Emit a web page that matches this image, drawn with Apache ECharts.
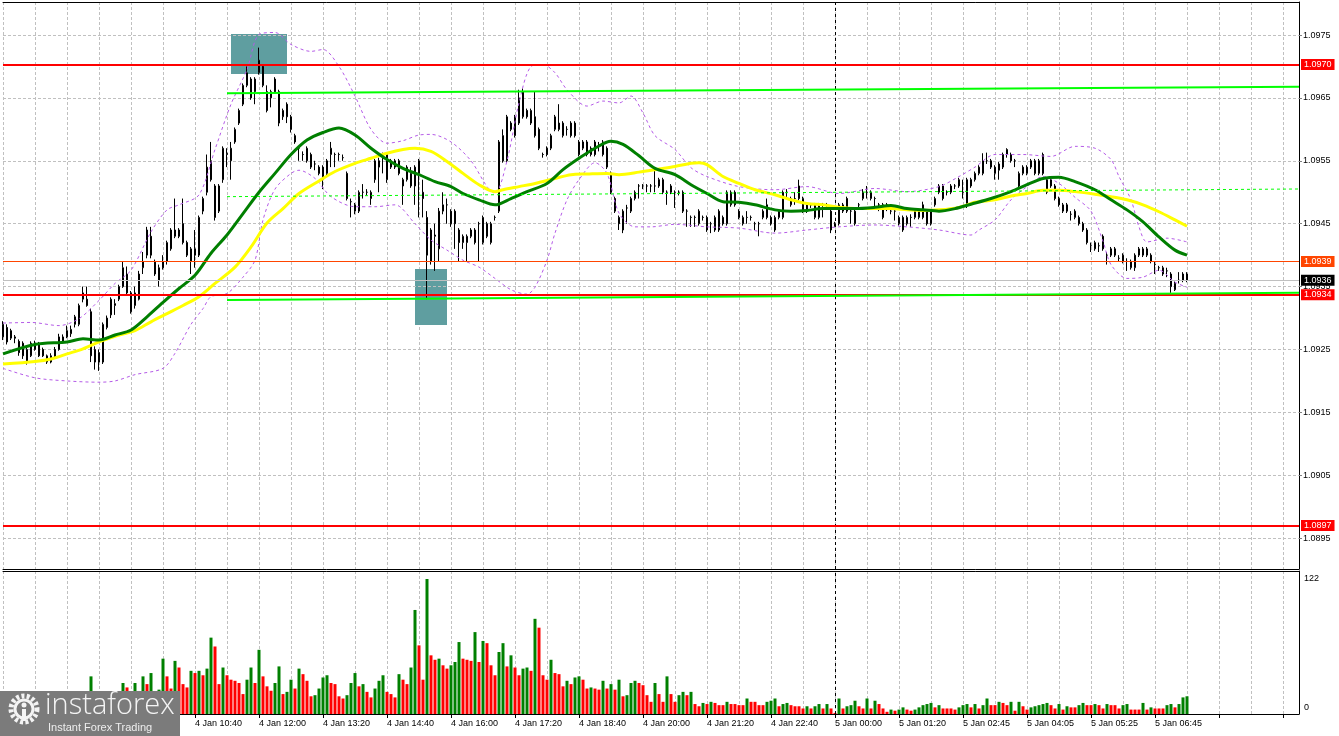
<!DOCTYPE html>
<html><head><meta charset="utf-8">
<script src="https://cdn.jsdelivr.net/npm/echarts@6/dist/echarts.min.js"></script>
<style>html,body{margin:0;padding:0;background:#fff;overflow:hidden}#c{width:1339px;height:736px}</style>
</head><body><div id="c"></div>
<script>
// ---------- DATA ----------
const opens = [
1.0927,1.09285,1.09268,1.0927,1.09263,1.0926,1.0923,1.0924,1.0925,1.0926,
1.0925,1.0923,1.0923,1.0925,1.0925,1.09262,1.0927,1.09275,1.0929,1.0929,
1.0933,1.0933,1.0931,1.0923,1.09245,1.0923,1.09285,1.09305,1.0932,1.0933,
1.0935,1.0937,1.0934,1.0932,1.0933,1.0938,1.094,1.0943,1.0939,1.0936,
1.0939,1.0939,1.0941,1.0943,1.0944,1.0945,1.0942,1.0939,1.0941,1.094,
1.0947,1.095,1.0955,1.0951,1.0947,1.0952,1.0956,1.0955,1.0958,1.0961,
1.0964,1.0967,1.0968,1.0966,1.0969,1.097,1.0966,1.0965,1.0968,1.0966,
1.0962,1.0964,1.0962,1.0959,1.0957,1.0956,1.0955,1.0956,1.09545,1.0954,
1.0954,1.0953,1.0956,1.0956,1.0956,1.09555,1.0953,1.09485,1.0947,1.0947,
1.095,1.095,1.0949,1.0952,1.0955,1.0956,1.0952,1.0955,1.0955,1.0955,
1.0952,1.0952,1.0951,1.0951,1.0955,1.095,1.0946,1.0939,1.0943,1.0941,
1.0947,1.0948,1.0947,1.0947,1.0944,1.0942,1.0942,1.0944,1.0944,1.0945,
1.0942,1.0945,1.0942,1.0946,1.0947,1.0959,1.0955,1.0961,1.0959,1.0961,
1.0962,1.0963,1.0961,1.0962,1.096,1.0956,1.0957,1.0957,1.096,1.0961,
1.0959,1.096,1.0961,1.0961,1.0958,1.0957,1.0958,1.0957,1.0958,1.09575,
1.0958,1.0957,1.0953,1.0949,1.0946,1.0944,1.09475,1.0947,1.0949,1.0951,
1.0951,1.0951,1.0951,1.0951,1.0952,1.0952,1.095,1.0951,1.095,1.095,
1.095,1.0947,1.0946,1.0946,1.0945,1.0946,1.0946,1.0945,1.0944,1.0944,
1.0946,1.0945,1.0948,1.095,1.0947,1.0945,1.0946,1.0946,1.0945,1.0945,
1.0946,1.0948,1.0946,1.0944,1.0946,1.0946,1.095,1.0948,1.0949,1.0951,
1.0947,1.0947,1.0948,1.0946,1.0946,1.0948,1.0948,1.0947,1.0945,1.0945,
1.0947,1.0949,1.0947,1.0945,1.0948,1.0949,1.095,1.0949,1.0949,1.0948,
1.0948,1.0948,1.0947,1.0947,1.0945,1.0946,1.0945,1.0946,1.0946,1.0946,
1.0948,1.0947,1.0945,1.0948,1.095,1.0951,1.095,1.095,1.0951,1.0951,
1.095,1.0948,1.0952,1.0952,1.0953,1.0953,1.0955,1.0955,1.0953,1.09535,
1.0954,1.0956,1.0956,1.0955,1.0951,1.0953,1.0953,1.0955,1.0955,1.0953,
1.0956,1.095,1.0952,1.0951,1.0949,1.0947,1.0948,1.09465,1.0946,1.0946,
1.0945,1.0944,1.09415,1.0941,1.09415,1.0943,1.094,1.0941,1.0941,1.09395,
1.0939,1.0939,1.0938,1.0938,1.094,1.094,1.094,1.094,1.09385,1.0938,
1.0937,1.09375,1.0937,1.09345,1.0936,1.0937,1.0937];
const highs = [
1.09295,1.0929,1.09283,1.09273,1.09266,1.09263,1.09253,1.09263,1.09264,1.09262,
1.09253,1.09242,1.09244,1.09254,1.09275,1.09274,1.09288,1.09288,1.09305,1.09323,
1.0935,1.0935,1.09315,1.09255,1.0925,1.09293,1.09304,1.09333,1.0933,1.09353,
1.0939,1.09382,1.09343,1.0935,1.09375,1.09405,1.09445,1.09445,1.09393,1.09385,
1.094,1.09423,1.09443,1.0949,1.09443,1.0949,1.09423,1.09413,1.0944,1.09463,
1.09493,1.0956,1.0958,1.09513,1.09513,1.09573,1.0957,1.0958,1.09603,1.09633,
1.09673,1.097,1.09683,1.09683,1.0973,1.09703,1.0967,1.09663,1.09683,1.09663,
1.09633,1.09643,1.09623,1.09593,1.09573,1.09565,1.09573,1.09563,1.0955,1.09543,
1.09543,1.09553,1.0958,1.09563,1.09563,1.0956,1.09533,1.0949,1.09483,1.09503,
1.09513,1.09505,1.09503,1.09553,1.09555,1.09563,1.09563,1.09553,1.09553,1.09553,
1.09523,1.09543,1.0954,1.09543,1.09553,1.0952,1.0947,1.09443,1.0945,1.09475,
1.095,1.0949,1.09473,1.09473,1.09443,1.09433,1.09433,1.09443,1.09443,1.09453,
1.09463,1.09453,1.09453,1.09463,1.09583,1.096,1.09623,1.09613,1.09623,1.09663,
1.09665,1.09633,1.09633,1.0966,1.09603,1.09563,1.09573,1.09593,1.09623,1.0964,
1.09613,1.09605,1.09613,1.09613,1.09583,1.09583,1.09583,1.09573,1.09583,1.0958,
1.09583,1.09573,1.09533,1.09493,1.09463,1.09473,1.0948,1.09493,1.09503,1.09513,
1.09513,1.09513,1.09513,1.0954,1.09523,1.09523,1.09503,1.09513,1.09503,1.09503,
1.09503,1.09473,1.09463,1.09463,1.09473,1.09463,1.09463,1.09453,1.09463,1.09473,
1.09463,1.09503,1.09503,1.09503,1.09473,1.09463,1.0947,1.09463,1.09453,1.09453,
1.09473,1.0949,1.09463,1.09463,1.09473,1.09503,1.09505,1.09493,1.095,1.0952,
1.09493,1.09483,1.09483,1.09483,1.09483,1.09483,1.09483,1.09473,1.09453,1.09483,
1.09483,1.09493,1.09473,1.09473,1.09483,1.09505,1.0951,1.09503,1.09493,1.09483,
1.09483,1.09483,1.09473,1.09473,1.09463,1.09463,1.09463,1.09465,1.09473,1.09473,
1.09485,1.09473,1.09473,1.09493,1.09513,1.09513,1.09503,1.09513,1.09513,1.09523,
1.0952,1.09523,1.09523,1.09533,1.09543,1.09562,1.09563,1.09553,1.09543,1.09548,
1.09563,1.0957,1.09563,1.09553,1.09533,1.09543,1.09543,1.09553,1.09553,1.09553,
1.09563,1.09523,1.09523,1.09513,1.09493,1.09483,1.09483,1.0947,1.09473,1.09463,
1.09453,1.09443,1.0942,1.09423,1.0942,1.09433,1.09405,1.09413,1.09413,1.094,
1.09403,1.09395,1.09393,1.09403,1.09413,1.09413,1.09413,1.09403,1.0939,1.09383,
1.09383,1.0938,1.09373,1.09358,1.09373,1.09373,1.09373];
const lows = [
1.09265,1.09258,1.09265,1.0926,1.0924,1.09235,1.09226,1.09238,1.09248,1.09238,
1.09238,1.09227,1.09228,1.09236,1.09248,1.0926,1.09268,1.0927,1.09285,1.09287,
1.09325,1.09318,1.0923,1.09218,1.09216,1.09227,1.09282,1.093,1.09305,1.09327,
1.09348,1.09336,1.09307,1.09315,1.09328,1.0937,1.09395,1.09395,1.09367,1.0935,
1.09377,1.09385,1.09407,1.09427,1.09427,1.09417,1.09397,1.0937,1.0938,1.09397,
1.09465,1.09495,1.09517,1.09455,1.09467,1.09515,1.0954,1.0952,1.09577,1.09607,
1.09637,1.09667,1.09647,1.0964,1.09687,1.09667,1.09627,1.09635,1.09657,1.09605,
1.09615,1.0961,1.09595,1.09577,1.0955,1.0955,1.09547,1.09537,1.09535,1.09527,
1.09505,1.09527,1.0954,1.0954,1.0955,1.0955,1.09487,1.0946,1.09465,1.09467,
1.0949,1.09495,1.0948,1.09515,1.095,1.0953,1.09515,1.09537,1.09537,1.09527,
1.0948,1.09517,1.09507,1.0948,1.0946,1.0946,1.0933,1.09385,1.09375,1.0939,
1.09465,1.0945,1.09445,1.0941,1.0939,1.0941,1.0939,1.09427,1.09417,1.0939,
1.09417,1.09427,1.09417,1.09455,1.09467,1.09547,1.09547,1.09597,1.09587,1.09607,
1.09617,1.09617,1.09607,1.09587,1.09567,1.09555,1.09557,1.09567,1.09597,1.09597,
1.09587,1.0959,1.09587,1.09587,1.09557,1.09567,1.09557,1.09557,1.09557,1.09565,
1.09557,1.09537,1.09497,1.09467,1.0944,1.09435,1.0945,1.09467,1.09487,1.0949,
1.09505,1.095,1.095,1.095,1.09507,1.09497,1.0948,1.09497,1.09475,1.09495,
1.09467,1.09445,1.09445,1.09445,1.09447,1.09455,1.09437,1.09435,1.09437,1.09437,
1.09447,1.09447,1.09477,1.09477,1.09457,1.09447,1.0945,1.09455,1.0944,1.0943,
1.09457,1.09457,1.09447,1.09437,1.09457,1.09457,1.0949,1.09477,1.0948,1.09487,
1.09467,1.09467,1.09475,1.09457,1.09457,1.0946,1.09475,1.09435,1.09445,1.09447,
1.09467,1.09467,1.0945,1.09447,1.09475,1.09487,1.0949,1.09487,1.09475,1.0947,
1.09457,1.0947,1.09465,1.09455,1.09447,1.09437,1.09447,1.09445,1.09457,1.09457,
1.09457,1.09447,1.09447,1.09477,1.09497,1.09487,1.09495,1.09497,1.09505,1.09507,
1.0949,1.09475,1.09507,1.09517,1.09527,1.09527,1.09545,1.09537,1.0952,1.0952,
1.09537,1.09555,1.09547,1.0954,1.09507,1.09527,1.09527,1.09537,1.09527,1.09527,
1.09527,1.09497,1.09507,1.09487,1.09477,1.09467,1.09467,1.09455,1.09457,1.09447,
1.09437,1.09417,1.09405,1.09407,1.09405,1.09407,1.09385,1.09397,1.09397,1.0939,
1.09387,1.09375,1.09377,1.09375,1.09397,1.09397,1.09397,1.09387,1.0937,1.09375,
1.09367,1.09365,1.0934,1.09343,1.09355,1.09357,1.09357];
const closes = [
1.0929,1.09262,1.0928,1.09268,1.09245,1.0924,1.0925,1.0926,1.0926,1.0924,
1.0924,1.0924,1.0924,1.09238,1.0927,1.0927,1.0928,1.09282,1.09302,1.0932,
1.0934,1.0932,1.0924,1.0925,1.0923,1.0929,1.093,1.0933,1.09323,1.0935,
1.0938,1.0934,1.0931,1.0934,1.0937,1.0939,1.0944,1.094,1.0937,1.0938,
1.0938,1.0942,1.0944,1.0944,1.0943,1.0942,1.094,1.0941,1.094,1.0946,
1.0949,1.0954,1.0952,1.0946,1.0951,1.0957,1.09562,1.0957,1.096,1.0963,
1.0967,1.0969,1.0965,1.0968,1.0971,1.0967,1.0963,1.0966,1.0966,1.0961,
1.0963,1.0962,1.096,1.0958,1.0957,1.0956,1.0957,1.0954,1.09545,1.0953,
1.0952,1.0955,1.0957,1.0956,1.0956,1.09555,1.0949,1.09485,1.0948,1.095,
1.095,1.095,1.095,1.0955,1.0954,1.0956,1.0956,1.0954,1.0954,1.0953,
1.0951,1.0954,1.0953,1.0954,1.0953,1.0949,1.094,1.0944,1.09432,1.0947,
1.0948,1.0948,1.0945,1.0945,1.0942,1.0943,1.0943,1.0943,1.0942,1.0945,
1.0946,1.0943,1.0945,1.0946,1.0958,1.0955,1.0962,1.096,1.0962,1.0965,
1.0966,1.0962,1.0963,1.0959,1.0957,1.0956,1.0956,1.0959,1.0962,1.096,
1.0961,1.096,1.0959,1.0959,1.0956,1.0958,1.0956,1.0956,1.0956,1.09575,
1.0956,1.0954,1.095,1.0947,1.0945,1.0947,1.09475,1.0949,1.095,1.0951,
1.0951,1.0951,1.0951,1.0951,1.0951,1.095,1.095,1.095,1.095,1.095,
1.0947,1.0947,1.0946,1.0946,1.0947,1.0946,1.0944,1.0945,1.0946,1.0947,
1.0945,1.095,1.095,1.0948,1.0946,1.0946,1.0946,1.0946,1.0945,1.0945,
1.0947,1.0946,1.0945,1.0946,1.0947,1.095,1.095,1.0949,1.0949,1.0949,
1.0949,1.0948,1.0948,1.0948,1.0948,1.0948,1.0948,1.0944,1.0945,1.0948,
1.0948,1.0947,1.0947,1.0947,1.0948,1.095,1.095,1.095,1.0949,1.0948,
1.0946,1.0948,1.0947,1.0947,1.0946,1.0944,1.0946,1.0946,1.0947,1.0947,
1.0946,1.0945,1.0947,1.0949,1.0951,1.0949,1.095,1.0951,1.0951,1.0952,
1.095,1.0952,1.0951,1.0953,1.0954,1.0955,1.0955,1.0954,1.0954,1.09545,
1.0956,1.09568,1.0955,1.0955,1.0953,1.0954,1.0954,1.0954,1.0953,1.0955,
1.0953,1.0952,1.0951,1.0949,1.0948,1.0948,1.0947,1.09465,1.0947,1.0945,
1.0944,1.0942,1.09415,1.0942,1.09415,1.0941,1.094,1.094,1.094,1.09395,
1.094,1.0939,1.0939,1.094,1.0941,1.0941,1.0941,1.0939,1.09385,1.0938,
1.0938,1.09375,1.0935,1.09355,1.0936,1.0936,1.0936];
const volumes = [
14,12,16,10,13,11,15,12,17,14, 11,18,13,16,12,15,19,14,17,13,
15,18,34,15,13,17,12,16,14,18, 28,24,18,28,20,34,27,37,19,22,
50,34,23,48,42,27,24,39,37,39, 35,41,69,61,27,42,35,31,30,28,
18,31,42,28,58,34,25,21,28,43, 18,20,31,23,41,36,30,16,17,23,
33,35,28,27,16,14,17,28,37,25, 27,20,15,23,30,35,20,18,15,36,
31,27,42,94,62,31,122,53,49,50, 44,41,44,47,65,50,49,48,74,47,
66,64,44,35,56,64,43,53,42,35, 41,42,39,86,78,35,31,49,37,36,
25,30,27,33,34,31,23,24,23,22, 30,23,27,22,31,16,17,28,30,28,
26,17,11,28,18,11,34,18,11,17, 20,17,20,9,7,10,9,11,10,8,
8,11,9,9,8,8,14,11,11,8, 8,11,12,14,7,9,10,8,7,7,
5,7,5,7,9,5,9,5,1,14, 5,7,8,12,7,5,14,5,12,9,
5,2,4,3,4,6,4,3,4,6, 8,9,10,6,8,5,5,5,4,6,
8,9,6,9,5,8,14,8,8,11, 10,8,11,3,11,7,4,6,7,8,
9,10,8,5,9,4,7,6,6,8, 10,8,8,9,8,5,9,8,8,5,
8,9,4,4,4,10,4,6,5,5, 5,8,9,6,9,15,16];
// moving averages / bands read at sample bars: [barIndex, price]
const maFast = [[0,1.09243],[8,1.09258],[16,1.09262],[20,1.09267],[24,1.09265],[28,1.09273],[32,1.09281],[36,1.09302],[40,1.09325],[44,1.09347],[48,1.09368],[52,1.09403],[56,1.09432],[60,1.09466],[64,1.095],[68,1.0953],[72,1.0956],[76,1.09583],[80,1.09595],[84,1.09602],[88,1.09591],[92,1.0957],[96,1.09552],[100,1.09538],[104,1.09528],[108,1.09517],[112,1.09509],[115,1.09498],[119,1.09488],[123,1.0948],[127,1.0949],[131,1.09501],[136,1.09514],[140,1.09536],[144,1.09554],[148,1.0957],[152,1.09581],[155,1.09576],[159,1.09558],[163,1.09538],[168,1.09528],[172,1.09512],[176,1.09498],[180,1.09485],[184,1.09484],[188,1.0948],[193,1.09472],[197,1.0947],[201,1.09471],[205,1.09474],[213,1.09474],[218,1.09476],[222,1.09479],[226,1.09474],[230,1.09472],[234,1.0947],[238,1.09474],[242,1.09481],[247,1.0949],[252,1.09501],[256,1.09512],[260,1.09522],[264,1.09524],[268,1.09517],[273,1.09504],[277,1.09488],[281,1.09472],[285,1.09453],[289,1.09429],[293,1.09408],[296,1.094]];
const maSlow = [[0,1.09227],[8,1.09231],[12,1.09235],[16,1.09243],[20,1.09251],[24,1.09262],[28,1.09271],[33,1.0928],[37,1.09294],[41,1.09307],[45,1.0932],[49,1.09334],[53,1.09355],[58,1.09381],[62,1.09413],[66,1.09451],[70,1.09474],[74,1.09498],[79,1.09518],[83,1.09533],[88,1.09546],[92,1.09554],[96,1.09562],[100,1.09568],[103,1.0957],[107,1.09565],[111,1.09549],[115,1.0953],[119,1.09512],[123,1.09501],[125,1.09504],[129,1.09509],[133,1.09514],[138,1.09522],[142,1.09528],[146,1.09529],[151,1.0953],[154,1.09528],[159,1.09532],[164,1.09537],[168,1.09541],[172,1.09546],[174,1.09547],[176,1.09544],[180,1.09525],[184,1.09514],[188,1.09504],[193,1.09496],[197,1.09488],[201,1.09482],[205,1.0948],[209,1.09476],[214,1.09474],[222,1.09474],[226,1.09472],[230,1.09471],[234,1.09472],[239,1.09476],[243,1.09484],[248,1.09488],[252,1.09494],[256,1.09498],[260,1.09503],[264,1.09503],[268,1.09501],[273,1.09497],[277,1.09493],[281,1.09488],[285,1.0948],[289,1.09469],[293,1.09456],[296,1.09446]];
const bandUpper = [[0,1.09292],[7,1.09293],[14,1.09288],[19,1.09299],[24,1.09328],[28,1.09355],[32,1.09376],[37,1.09437],[41,1.09472],[44,1.0948],[49,1.09496],[53,1.09568],[57,1.0964],[61,1.09695],[64,1.09751],[68,1.09754],[72,1.09735],[77,1.09724],[80,1.09727],[84,1.097],[88,1.09653],[92,1.096],[96,1.09578],[100,1.09582],[104,1.09591],[107,1.09592],[112,1.0958],[117,1.0955],[121,1.09509],[123,1.09498],[126,1.0955],[129,1.09642],[132,1.097],[135,1.09703],[138,1.0969],[141,1.09663],[146,1.09637],[150,1.09645],[154,1.09642],[157,1.09653],[160,1.09626],[163,1.0959],[168,1.09568],[172,1.09539],[176,1.09525],[184,1.09509],[193,1.09504],[201,1.09509],[209,1.09498],[218,1.09506],[226,1.09501],[234,1.09509],[239,1.09525],[243,1.0954],[248,1.0956],[255,1.0956],[262,1.09557],[268,1.09573],[273,1.0957],[277,1.09552],[279,1.09525],[282,1.09488],[284,1.09445],[286,1.09421],[291,1.09427],[296,1.09421]];
const bandLower = [[0,1.0922],[8,1.09205],[16,1.092],[24,1.09198],[28,1.092],[33,1.0921],[40,1.0922],[43,1.09244],[47,1.0929],[50,1.09315],[52,1.09334],[56,1.09339],[60,1.09365],[63,1.09392],[65,1.09456],[68,1.09505],[72,1.0953],[74,1.09535],[78,1.09522],[82,1.09493],[88,1.09477],[93,1.09477],[98,1.0948],[103,1.0945],[107,1.09424],[111,1.09408],[115,1.09392],[119,1.09381],[123,1.09363],[127,1.09345],[131,1.09338],[133,1.09349],[136,1.09392],[138,1.09435],[141,1.09488],[144,1.0952],[148,1.09547],[151,1.0953],[154,1.09467],[158,1.09445],[162,1.09445],[168,1.09449],[176,1.09445],[184,1.09443],[193,1.09435],[201,1.0944],[209,1.09445],[218,1.09448],[226,1.09445],[234,1.0944],[242,1.09432],[244,1.0944],[248,1.09456],[252,1.09488],[256,1.09509],[260,1.09525],[264,1.09514],[268,1.09492],[272,1.0947],[275,1.09422],[277,1.09385],[281,1.09363],[285,1.09365],[289,1.09376],[293,1.09357],[296,1.09349]];
// trend channel lines: [barIndex, price] end points
const trendUpper = [[56,1.096573],[324,1.096679]];
const trendMiddle = [[56,1.09493],[324,1.095052]];
const trendLower = [[56,1.093287],[324,1.093404]];
// horizontal levels
const resistanceLevels = [1.09703, 1.09337, 1.0897];
const pivotLevel = 1.0939;
const bidPrice = 1.0936;
// signal boxes: [fromBar, toBar, topPrice, bottomPrice]
const signalBoxes = [[57,71,1.097516,1.09688],[103,111,1.09378,1.092889]];
const priceTicks = [1.0895,1.0905,1.0915,1.0925,1.0935,1.0945,1.0955,1.0965,1.0975];
const volumeTicks = [0,122];
const xTickLabels = ['4 Jan 10:40','4 Jan 12:00','4 Jan 13:20','4 Jan 14:40','4 Jan 16:00','4 Jan 17:20','4 Jan 18:40','4 Jan 20:00','4 Jan 21:20','4 Jan 22:40','5 Jan 00:00','5 Jan 01:20','5 Jan 02:45','5 Jan 04:05','5 Jan 05:25','5 Jan 06:45'];
const firstLabelBar = 48, labelEvery = 16, gridEvery = 8;
const daySeparatorBar = 208;
const barSlots = 325;

// ---------- CHART ----------
const FONT = '"Liberation Sans", Arial, sans-serif';
const cats = Array.from({length: barSlots}, (_, i) => String(i));
const isGridBar = i => i % gridEvery === 0;
const isLabelBar = i => i >= firstLabelBar && (i - firstLabelBar) % labelEvery === 0;
const dashGrey = {color: '#c0c0c0', width: 1, type: [3, 2]};
const candles = opens.map((o, i) => [o, closes[i], lows[i], highs[i]]);
const volData = volumes.map((v, i) => ({
  value: v,
  itemStyle: {color: (i > 0 && v > volumes[i - 1]) ? '#008000' : '#ff0000'}
}));

function levelLabel(bg, fg, text) {
  return {show: true, position: 'end', distance: 2, color: fg, backgroundColor: bg, formatter: text,
    fontSize: 9, fontFamily: FONT, padding: [1, 3, 0, 3], lineHeight: 10};
}

const chart = echarts.init(document.getElementById('c'));
chart.setOption({
  animation: false,
  backgroundColor: '#ffffff',
  grid: [
    {left: 3, right: 40, top: 2, height: 567},
    {left: 3, right: 40, top: 571, height: 143}
  ],
  xAxis: [
    {type: 'category', gridIndex: 0, data: cats, boundaryGap: false,
      axisLine: {lineStyle: {color: '#000', width: 1}}, axisTick: {show: false}, axisLabel: {show: false},
      splitLine: {show: true, interval: (i) => isGridBar(i), lineStyle: dashGrey}},
    {type: 'category', gridIndex: 0, data: cats, boundaryGap: false, position: 'top',
      axisLine: {lineStyle: {color: '#000', width: 1}}, axisTick: {show: false}, axisLabel: {show: false}, splitLine: {show: false}},
    {type: 'category', gridIndex: 1, data: cats, boundaryGap: false,
      axisLine: {lineStyle: {color: '#000', width: 1}},
      axisTick: {show: true, interval: (i) => isLabelBar(i), length: 4, lineStyle: {color: '#000'}},
      axisLabel: {show: true, interval: (i) => isLabelBar(i),
        formatter: (v, i) => isLabelBar(i) ? xTickLabels[(i - firstLabelBar) / labelEvery] : '',
        align: 'left', margin: 5, fontSize: 9, fontFamily: FONT, color: '#000'},
      splitLine: {show: true, interval: (i) => isGridBar(i), lineStyle: dashGrey}},
    {type: 'category', gridIndex: 1, data: cats, boundaryGap: false, position: 'top',
      axisLine: {lineStyle: {color: '#000', width: 1}}, axisTick: {show: false}, axisLabel: {show: false}, splitLine: {show: false}}
  ],
  yAxis: [
    {type: 'value', gridIndex: 0, position: 'right', min: 1.08901, max: 1.098025, scale: true,
      axisLine: {show: true, lineStyle: {color: '#000'}}, splitLine: {show: false},
      axisTick: {show: true, length: 3, customValues: priceTicks, lineStyle: {color: '#808080'}},
      axisLabel: {show: true, customValues: priceTicks, formatter: v => v.toFixed(4), margin: 4,
        fontSize: 9, fontFamily: FONT, color: '#000'}},
    {type: 'value', gridIndex: 1, position: 'right', min: 0, max: 129.2,
      axisLine: {show: true, lineStyle: {color: '#000'}}, splitLine: {show: false},
      axisTick: {show: false},
      axisLabel: {show: true, customValues: volumeTicks, margin: 5,
        formatter: v => v === 0 ? '{b|0}' : '{t|' + v + '}',
        rich: {b: {padding: [0, 0, 12, 0], fontSize: 9, fontFamily: FONT, color: '#000'},
               t: {fontSize: 9, fontFamily: FONT, color: '#000'}}}}
  ],
  series: [
    {name: 'frame', type: 'line', xAxisIndex: 0, yAxisIndex: 0, data: [], z: 1, silent: true,
      markLine: {silent: true, symbol: 'none', animation: false, precision: 6, z: 1, label: {show: false},
        lineStyle: dashGrey,
        data: priceTicks.map(v => ({yAxis: v}))
          .concat([{xAxis: daySeparatorBar, lineStyle: {color: '#000', width: 1, type: [3, 3]}}])},
      markArea: {silent: true, z: 1, itemStyle: {color: '#5f9ea0', opacity: 1},
        data: signalBoxes.map(b => [{xAxis: b[0], yAxis: b[2]}, {xAxis: b[1], yAxis: b[3]}])}},
    {name: 'price', type: 'candlestick', xAxisIndex: 0, yAxisIndex: 0, data: candles, z: 3,
      barWidth: 2, clip: false,
      itemStyle: {color: '#ffffff', color0: '#000000', borderColor: '#000000', borderColor0: '#000000',
        borderColorDoji: '#000000', borderWidth: 1}},
    {name: 'bandUp', type: 'line', xAxisIndex: 0, yAxisIndex: 0, data: bandUpper, z: 4, smooth: 0.3,
      symbol: 'none', lineStyle: {color: '#b55be8', width: 1, type: [3, 3]}},
    {name: 'bandDn', type: 'line', xAxisIndex: 0, yAxisIndex: 0, data: bandLower, z: 4, smooth: 0.3,
      symbol: 'none', lineStyle: {color: '#b55be8', width: 1, type: [3, 3]}},
    {name: 'maSlow', type: 'line', xAxisIndex: 0, yAxisIndex: 0, data: maSlow, z: 5, smooth: 0.3,
      symbol: 'none', lineStyle: {color: '#ffff00', width: 3}},
    {name: 'maFast', type: 'line', xAxisIndex: 0, yAxisIndex: 0, data: maFast, z: 6, smooth: 0.3,
      symbol: 'none', lineStyle: {color: '#007f00', width: 3}},
    {name: 'levels', type: 'line', xAxisIndex: 0, yAxisIndex: 0, data: [], z: 7, silent: true,
      markLine: {silent: true, symbol: 'none', animation: false, precision: 6, z: 7,
        data: resistanceLevels.map(v => ({yAxis: v, lineStyle: {color: '#ff0000', width: 2, type: 'solid'},
            label: levelLabel('#ff0000', '#ffffff', v.toFixed(4))}))
          .concat([
            {yAxis: pivotLevel, lineStyle: {color: '#ff4500', width: 1, type: 'solid'},
              label: levelLabel('#ff4500', '#ffffff', pivotLevel.toFixed(4))},
            {yAxis: bidPrice, lineStyle: {color: '#c0c0c0', width: 1, type: 'solid'},
              label: levelLabel('#000000', '#ffffff', bidPrice.toFixed(4))}
          ])}},
    {name: 'chUp', type: 'line', xAxisIndex: 0, yAxisIndex: 0, data: trendUpper, z: 8, symbol: 'none',
      lineStyle: {color: '#00ff00', width: 2}},
    {name: 'chMid', type: 'line', xAxisIndex: 0, yAxisIndex: 0, data: trendMiddle, z: 8, symbol: 'none',
      lineStyle: {color: '#00ff00', width: 1, type: [3, 3]}},
    {name: 'chDn', type: 'line', xAxisIndex: 0, yAxisIndex: 0, data: trendLower, z: 8, symbol: 'none',
      lineStyle: {color: '#00ff00', width: 2}},
    {name: 'volume', type: 'bar', xAxisIndex: 2, yAxisIndex: 1, data: volData, barWidth: 3, z: 3,
      markLine: {silent: true, symbol: 'none', animation: false, label: {show: false},
        data: [{xAxis: daySeparatorBar, lineStyle: {color: '#000', width: 1, type: [3, 3]}}]}}
  ],
  graphic: [{
    type: 'group', left: 0, top: 691, z: 100,
    children: [
      {type: 'rect', z: 100, shape: {x: 0, y: 0, width: 180, height: 45}, style: {fill: '#7b7b7b'}},
      {type: 'circle', z: 101, shape: {cx: 24, cy: 18, r: 13}, style: {fill: 'none', stroke: '#f4f4f4', lineWidth: 5, lineDash: [3, 2.3]}},
      {type: 'circle', z: 101, shape: {cx: 24, cy: 18, r: 9}, style: {fill: 'none', stroke: '#f4f4f4', lineWidth: 3}},
      {type: 'circle', z: 101, shape: {cx: 24, cy: 14, r: 2.5}, style: {fill: '#f4f4f4'}},
      {type: 'rect', z: 101, shape: {x: 22, y: 18, width: 4, height: 12}, style: {fill: '#f4f4f4'}},
      {type: 'text', z: 101, x: 45, y: 0, style: {text: 'instaforex', fill: '#f4f4f4', fontSize: 29, fontWeight: 'lighter', fontFamily: '"Open Sans", sans-serif'}},
      {type: 'text', z: 101, x: 48, y: 31, style: {text: 'Instant Forex Trading', fill: '#eeeeee', fontSize: 11, fontFamily: FONT}}
    ]
  }]
});
</script>
</body></html>
